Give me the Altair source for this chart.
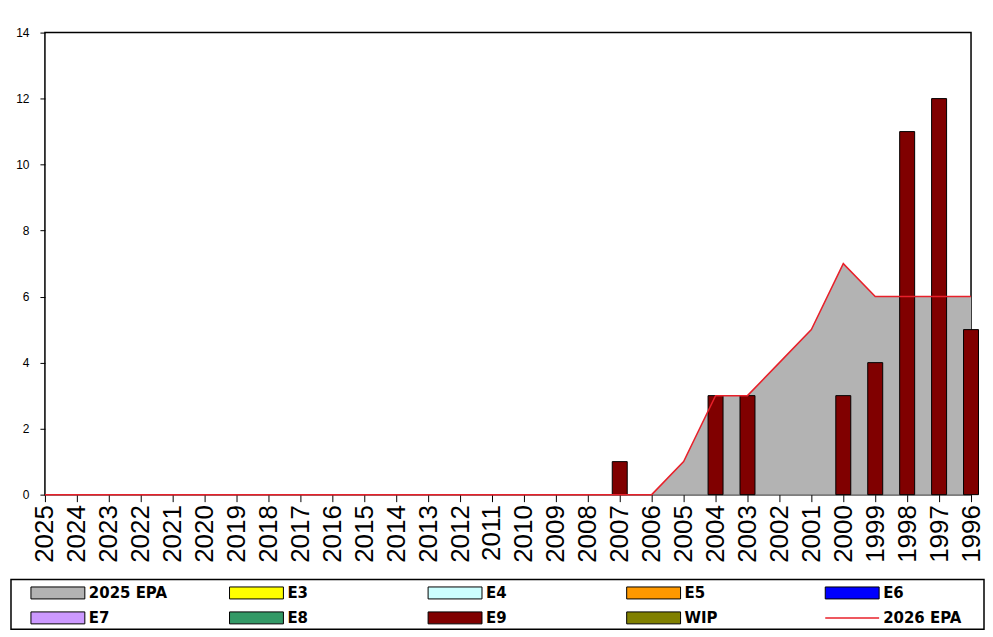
import altair as alt
import pandas as pd

years = ["2025", "2024", "2023", "2022", "2021", "2020", "2019", "2018", "2017", "2016",
         "2015", "2014", "2013", "2012", "2011", "2010", "2009", "2008", "2007", "2006",
         "2005", "2004", "2003", "2002", "2001", "2000", "1999", "1998", "1997", "1996"]

epa_2025 = [0, 0, 0, 0, 0, 0, 0, 0, 0, 0,
            0, 0, 0, 0, 0, 0, 0, 0, 0, 0,
            1, 3, 3, 4, 5, 7, 6, 6, 6, 6]

epa_2026 = [0, 0, 0, 0, 0, 0, 0, 0, 0, 0,
            0, 0, 0, 0, 0, 0, 0, 0, 0, 0,
            1, 3, 3, 4, 5, 7, 6, 6, 6, 6]

e9 = [None, None, None, None, None, None, None, None, None, None,
      None, None, None, None, None, None, None, None, 1, None,
      None, 3, 3, None, None, 3, 4, 11, 12, 5]

y_ticks = [0, 2, 4, 6, 8, 10, 12, 14]

legend_names = ["2025 EPA", "E3", "E4", "E5", "E6", "E7", "E8", "E9", "WIP", "2026 EPA"]
legend_colors = ["#b3b3b3", "#ffff00", "#ccffff", "#ff9900", "#0000ff",
                 "#cc99ff", "#339966", "#800000", "#808000", "#e8202a"]
legend_kinds = ["rect"] * 9 + ["line"]

df = pd.DataFrame({"year": years, "epa2025": epa_2025, "epa2026": epa_2026, "e9": e9})

xenc = alt.X(
    "year:O",
    scale=alt.Scale(type="point", domain=years, padding=0),
    axis=alt.Axis(title=None, labelAngle=270, labelFontSize=26, labelFont="Liberation Sans",
                  labelColor="black", tickColor="black", tickSize=7, labelPadding=3,
                  domain=False, minExtent=70, maxExtent=70),
)

yscale = alt.Scale(domain=[0, 14], nice=False)
yaxis = alt.Axis(title=None, values=y_ticks, grid=False, domain=False, tickSize=5,
                 tickColor="black", labelColor="black", labelFontSize=12,
                 labelFont="Liberation Sans", labelPadding=11,
                 minExtent=34, maxExtent=34)

area = alt.Chart(df).mark_area(color="#b3b3b3", opacity=1).encode(
    x=xenc, y=alt.Y("epa2025:Q", scale=yscale, axis=yaxis)
)
bars = alt.Chart(df).transform_filter("isValid(datum.e9)").mark_bar(
    size=15, color="#800000", stroke="black", strokeWidth=1
).encode(x=xenc, y=alt.Y("e9:Q", scale=yscale, axis=yaxis))
line = alt.Chart(df).mark_line(color="#e8202a", strokeWidth=1.5).encode(
    x=xenc, y=alt.Y("epa2026:Q", scale=yscale, axis=yaxis)
)

top = alt.layer(area, bars, line).properties(
    width=928, height=463,
    view=alt.ViewBackground(stroke="black", strokeWidth=1.5),
)

leg_df = pd.DataFrame({
    "name": legend_names,
    "color": legend_colors,
    "kind": legend_kinds,
    "col": [i % 5 for i in range(len(legend_names))],
    "row": [i // 5 for i in range(len(legend_names))],
})

lx = alt.X("col:Q", scale=alt.Scale(domain=[0, 4.9], range=[-34, 941], nice=False, zero=False),
           axis=None)
ly = alt.Y("row:O", scale=alt.Scale(paddingInner=0, paddingOuter=0), axis=None)

box = alt.Chart(pd.DataFrame({"k": [0]})).mark_rect(
    filled=False, stroke="black", strokeWidth=1.5
).encode(x=alt.value(-34), x2=alt.value(941), y=alt.value(0), y2=alt.value(50))

swatches = alt.Chart(leg_df).transform_filter("datum.kind == 'rect'").mark_point(
    shape="M-1,-0.222L1,-0.222L1,0.222L-1,0.222Z", size=2916, filled=True,
    stroke="black", strokeWidth=1, opacity=1, xOffset=47, yOffset=1
).encode(x=lx, y=ly, fill=alt.Color("color:N", scale=None))

lines = alt.Chart(leg_df).transform_filter("datum.kind == 'line'").mark_point(
    shape="M-1,0L1,0", size=2916, filled=False, strokeWidth=1.5, opacity=1,
    xOffset=47, yOffset=1
).encode(x=lx, y=ly, stroke=alt.Color("color:N", scale=None))

labels = alt.Chart(leg_df).mark_text(
    align="left", baseline="middle", dx=78, dy=1, font="DejaVu Sans",
    fontWeight="bold", fontSize=15, color="black"
).encode(x=lx, y=ly, text="name:N")

legend = alt.layer(box, swatches, lines, labels).properties(
    width=928, height=50,
    view=alt.ViewBackground(stroke=None),
)

chart = alt.vconcat(top, legend, spacing=13).properties(
    padding={"left": 2, "top": 17, "right": 0, "bottom": 0},
    background="white",
).resolve_scale(x="independent", y="independent")

chart.save("out.html", embed_options={"renderer": "svg", "actions": False})
